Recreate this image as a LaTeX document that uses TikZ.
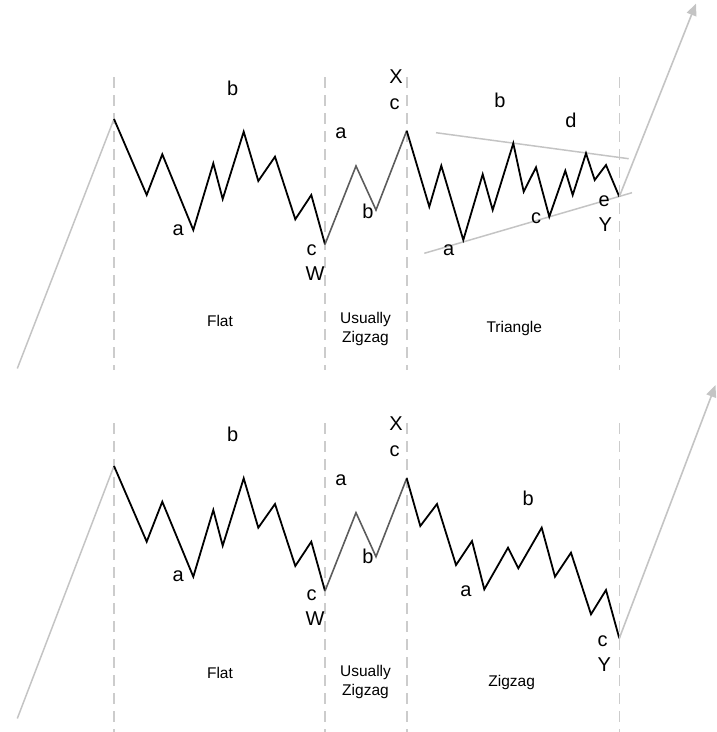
\documentclass[tikz,border=0pt]{standalone}
\usepackage{fontspec}
\setmainfont{Liberation Sans}
\usetikzlibrary{arrows.meta}
\definecolor{dashgray}{RGB}{204,204,204}
\definecolor{trendgray}{RGB}{196,196,196}
\definecolor{midgray}{RGB}{92,92,92}
\tikzset{
  wave/.style={black, line width=1.8pt},
  midwave/.style={midgray, line width=1.6pt},
  guide/.style={dashgray, line width=1.6pt, dash pattern=on 11pt off 7pt},
  trend/.style={trendgray, line width=1.5pt},
  impulse/.style={trendgray, line width=1.6pt, -{Triangle[length=12pt,width=10pt]}},
  lbl/.style={font=\fontsize{20}{20}\selectfont, inner sep=0pt, anchor=base},
  note/.style={font=\fontsize{15.5}{19.5}\selectfont, inner sep=0pt, align=center},
}
\begin{document}
\begin{tikzpicture}[x=1pt,y=-1pt]
\useasboundingbox (0,0) rectangle (716,732);

% ===================== TOP PANEL =====================
\foreach \gx/\gn in {114/ga,325/gb,406.7/gc,619.3/gd}{
  \coordinate (\gn t) at (\gx,77);
  \coordinate (\gn b) at (\gx,370);
  \draw[guide] (\gn t) -- (\gn b);
}
\coordinate (tstart) at (17.3,368.5);
\coordinate (tW0) at (114,119);
\draw[trend] (tstart) -- (tW0);

\coordinate (tWa) at (193.3,230);
\coordinate (tWb) at (243.7,131.7);
\coordinate (tWc) at (325,244.3);
\draw[wave] (tW0) -- (146.7,195) -- (162.3,154.3) -- (tWa) -- (213.3,163.3)
  -- (222.7,199) -- (tWb) -- (258.3,181) -- (275,156.7) -- (295.3,219.3)
  -- (311.3,195) -- (tWc);

\coordinate (tXa) at (356,166);
\coordinate (tXb) at (376,210);
\coordinate (tXc) at (406.7,130.7);
\draw[midwave] (tWc) -- (tXa) -- (tXb) -- (tXc);

\coordinate (tu1) at (436,132.7);
\coordinate (tu2) at (628.7,158.7);
\coordinate (tl1) at (424.3,253.3);
\coordinate (tl2) at (632,192.7);
\draw[trend] (tu1) -- (tu2);
\draw[trend] (tl1) -- (tl2);

\coordinate (tYa) at (463.3,240);
\coordinate (tYb) at (513.3,143.3);
\coordinate (tYc) at (549.3,216.7);
\coordinate (tYd) at (586,153.3);
\coordinate (tYe) at (619.3,196.7);
\draw[wave] (tXc) -- (429.3,206.7) -- (441.3,165.7) -- (tYa) -- (482.7,174.3)
  -- (492.7,210) -- (tYb) -- (523.7,191.7) -- (536,167.3) -- (tYc)
  -- (565.3,170.7) -- (572.7,195) -- (tYd) -- (594.7,180) -- (606,165) -- (tYe);

\coordinate (tend) at (696,3.5);
\draw[impulse] (tYe) -- (tend);

\node[lbl] (tlb1) at (232.7,95) {b};
\node[lbl] (tla1) at (178.3,235) {a};
\node[lbl] (tlc1) at (311.7,255) {c};
\node[lbl] (tlW)  at (315,280) {W};
\node[lbl] (tla2) at (341,138.3) {a};
\node[lbl] (tlb2) at (368,218.3) {b};
\node[lbl] (tlc2) at (394.7,109.3) {c};
\node[lbl] (tlX)  at (396,83.3) {X};
\node[lbl] (tlb3) at (500,107.3) {b};
\node[lbl] (tld3) at (571,127.3) {d};
\node[lbl] (tla3) at (448.7,255) {a};
\node[lbl] (tlc3) at (536,223.3) {c};
\node[lbl] (tle3) at (604.3,206) {e};
\node[lbl] (tlY)  at (605.3,231.7) {Y};

\node[note] (tflat) at (220,320.5) {Flat};
\node[note] (tuz) at (365.5,329) {Usually\\Zigzag};
\node[note] (ttri) at (514.3,328.5) {Triangle};

% ===================== BOTTOM PANEL =====================
\foreach \gx/\gn in {114/ha,325/hb,406.7/hc,619.3/hd}{
  \coordinate (\gn t) at (\gx,423);
  \coordinate (\gn b) at (\gx,732);
  \draw[guide] (\gn t) -- (\gn b);
}
\coordinate (bstart) at (17.3,718.5);
\coordinate (bW0) at (114,466);
\draw[trend] (bstart) -- (bW0);

\coordinate (bWa) at (193.3,576.7);
\coordinate (bWb) at (243.7,478.3);
\coordinate (bWc) at (325,591);
\draw[wave] (bW0) -- (146.7,541.7) -- (162.3,501.7) -- (bWa) -- (213.3,510)
  -- (222.7,545.7) -- (bWb) -- (258.3,527.7) -- (275,504) -- (295.3,566)
  -- (311.3,541.7) -- (bWc);

\coordinate (bXa) at (356,512.7);
\coordinate (bXb) at (376,556.7);
\coordinate (bXc) at (406.7,478.3);
\draw[midwave] (bWc) -- (bXa) -- (bXb) -- (bXc);

\coordinate (bYa) at (484.3,589.3);
\coordinate (bYb) at (541.7,527.7);
\coordinate (bYc) at (619.3,638.3);
\draw[wave] (bXc) -- (420.3,526) -- (437,504) -- (456,565) -- (472,541)
  -- (bYa) -- (508,547.7) -- (518.3,568.3) -- (bYb) -- (555,576.7)
  -- (571,552.7) -- (591,614.3) -- (606,590) -- (bYc);

\coordinate (bend) at (715.5,385);
\draw[impulse] (bYc) -- (bend);

\node[lbl] (blb1) at (232.7,441.7) {b};
\node[lbl] (bla1) at (178.3,581.7) {a};
\node[lbl] (blc1) at (311.7,600) {c};
\node[lbl] (blW)  at (315,625) {W};
\node[lbl] (bla2) at (341,485) {a};
\node[lbl] (blb2) at (368,563.3) {b};
\node[lbl] (blc2) at (394.7,456) {c};
\node[lbl] (blX)  at (396,430) {X};
\node[lbl] (blb3) at (528.3,505) {b};
\node[lbl] (bla3) at (466,596.7) {a};
\node[lbl] (blc3) at (602.7,646) {c};
\node[lbl] (blY)  at (604.3,671.7) {Y};

\node[note] (bflat) at (220,673) {Flat};
\node[note] (buz) at (365.5,682) {Usually\\Zigzag};
\node[note] (bzz) at (511.7,682.3) {Zigzag};
\end{tikzpicture}
\end{document}
